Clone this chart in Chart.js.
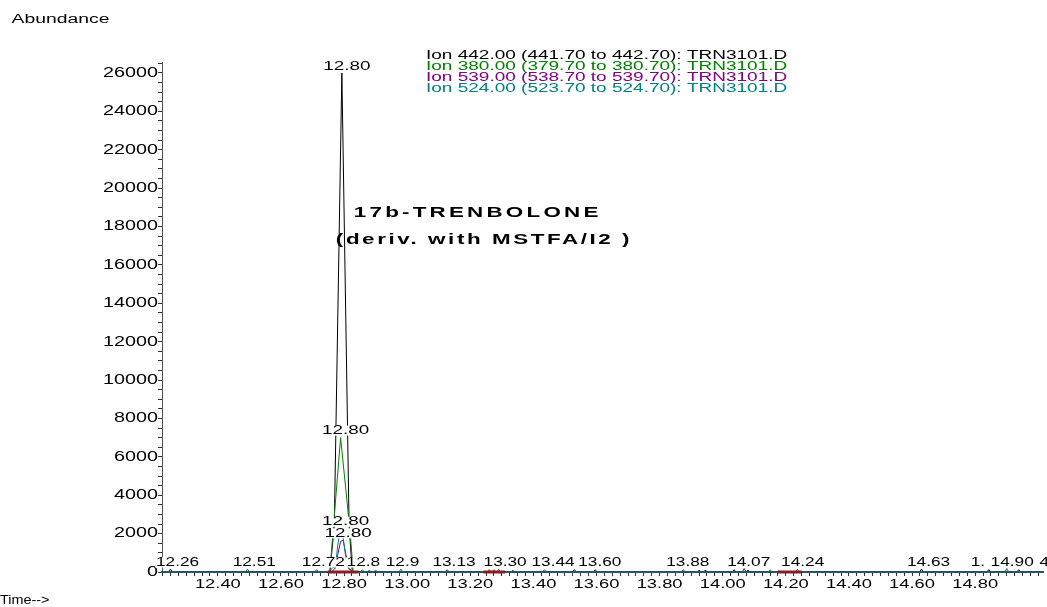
<!DOCTYPE html>
<html><head><meta charset="utf-8">
<script src="https://cdn.jsdelivr.net/npm/chart.js@4.4.1/dist/chart.umd.min.js"></script>
<style>html,body{margin:0;padding:0;background:#fff;overflow:hidden}canvas{display:block}</style>
</head><body>
<canvas id="c" width="1047" height="607"></canvas>
<script>
// ---------------- data ----------------
const ION_LABELS = [
  'Ion 442.00 (441.70 to 442.70): TRN3101.D',
  'Ion 380.00 (379.70 to 380.70): TRN3101.D',
  'Ion 539.00 (538.70 to 539.70): TRN3101.D',
  'Ion 524.00 (523.70 to 524.70): TRN3101.D'
];
const ION_COLORS = ['#000000', '#008000', '#800080', '#008080'];

const T442 = [12.223, 12.244, 12.250, 12.256, 12.755, 12.769, 12.793, 12.816, 12.826, 13.524, 13.530, 13.536, 13.590, 13.596, 13.602, 13.919, 13.925, 13.931, 13.939, 13.945, 13.951, 14.030, 14.036, 14.042, 14.074, 14.080, 14.086, 14.624, 14.630, 14.636, 14.837, 14.843, 14.849, 14.932, 14.938, 14.944, 15.010];
const A442 = [0, 0, 150, 0, 0, 2400, 26000, 2400, 0, 0, 120, 0, 0, 120, 0, 0, 100, 0, 0, 100, 0, 0, 120, 0, 0, 100, 0, 0, 150, 0, 0, 120, 0, 0, 120, 0, 0];

const T380 = [12.223, 12.488, 12.494, 12.500, 12.755, 12.765, 12.789, 12.819, 12.829, 12.852, 12.858, 12.864, 12.874, 12.880, 12.886, 12.974, 12.980, 12.986, 13.254, 13.260, 13.266, 13.269, 13.275, 13.281, 13.329, 13.335, 13.341, 13.429, 13.435, 13.441, 14.144, 14.150, 14.156, 14.894, 14.900, 14.906, 15.010];
const A380 = [0, 0, 150, 0, 0, 2100, 7000, 2100, 0, 0, 120, 0, 0, 100, 0, 0, 150, 0, 0, 120, 0, 0, 120, 0, 0, 100, 0, 0, 120, 0, 0, 120, 0, 0, 180, 0, 0];

const T539 = [12.223, 12.707, 12.713, 12.719, 12.760, 12.772, 12.780, 12.789, 12.797, 12.806, 12.815, 12.828, 13.121, 13.127, 13.133, 13.869, 13.875, 13.881, 14.062, 14.068, 14.074, 15.010];
const A539 = [0, 0, 120, 0, 0, 200, 900, 1600, 1650, 900, 200, 0, 0, 120, 0, 0, 120, 0, 0, 180, 0, 0];

const T524 = [12.223, 12.740, 12.755, 12.765, 12.772, 12.780, 12.789, 12.797, 12.806, 12.815, 12.830, 12.894, 12.900, 12.906, 13.284, 13.290, 13.296, 14.231, 14.237, 14.243, 15.010];
const A524 = [0, 0, 60, 250, 200, 1400, 2250, 1800, 700, 150, 0, 0, 100, 0, 0, 150, 0, 0, 150, 0, 0];

// integration baselines
const BASE_T = [12.748, 12.846, 12.900, 13.242, 13.310, 13.400, 14.175, 14.250];
const BASE_A = [0, 0, null, 0, 0, null, 0, 0];

// apex labels (one per ion)
const PEAK_LABELS = ['12.80', '12.80', '12.80', '12.80'];

// retention-time labels along the baseline (text as shown, time at left edge of text)
const RT_TEXT = ['12.26', '12.51', '12.72', '12.8', '12.9', '13.13', '13.30', '13.44', '13.60', '13.88', '14.07', '14.24', '14.63', '1.', '14.90', '4'];
const RT_T = [12.204, 12.447, 12.666, 12.808, 12.932, 13.080, 13.242, 13.394, 13.542, 13.821, 14.014, 14.185, 14.584, 14.786, 14.849, 15.004];

const X_TICK_LABELS = ['12.40', '12.60', '12.80', '13.00', '13.20', '13.40', '13.60', '13.80', '14.00', '14.20', '14.40', '14.60', '14.80'];
const Y_TICK_LABELS = ['0', '2000', '4000', '6000', '8000', '10000', '12000', '14000', '16000', '18000', '20000', '22000', '24000', '26000'];

const X_MIN = 12.223, X_MAX = 15.015, Y_MIN = 0, Y_MAX = 26570;
const X_MINOR = 0.025, Y_MINOR = 500;
const ANNOT = ['17b-TRENBOLONE', '(deriv. with MSTFA/I2 )'];

// ---------------- horizontally stretched text ----------------
const canvas = document.getElementById('c');
const ctx = canvas.getContext('2d');
let SX = 1.41;
const rawFill = ctx.fillText.bind(ctx);
const rawMeasure = ctx.measureText.bind(ctx);
ctx.fillText = function (t, x, y) {
  this.save(); this.translate(x, y); this.scale(SX, 1); rawFill(t, 0, 0); this.restore();
};
ctx.measureText = function (t) {
  const m = rawMeasure(t);
  return { width: m.width * SX, actualBoundingBoxAscent: m.actualBoundingBoxAscent,
    actualBoundingBoxDescent: m.actualBoundingBoxDescent,
    actualBoundingBoxLeft: m.actualBoundingBoxLeft * SX, actualBoundingBoxRight: m.actualBoundingBoxRight * SX };
};
const FAM = '"Liberation Sans", Arial, sans-serif';

function drawText(c, s, x, y, o) {
  c.save();
  c.font = o.font;
  c.textAlign = o.align || 'left';
  c.textBaseline = 'middle';
  if ('letterSpacing' in c) c.letterSpacing = (o.ls || 0) + 'px';
  const prev = SX; SX = o.sx;
  if (o.bg) {
    const w = c.measureText(s).width;
    let left = x;
    if (c.textAlign === 'center') left = x - w / 2; else if (c.textAlign === 'right') left = x - w;
    c.fillStyle = '#fff';
    c.fillRect(left - 1, y - o.bh / 2, w + 2, o.bh);
  }
  c.fillStyle = o.color || '#000';
  c.fillText(s, x, y);
  SX = prev;
  c.restore();
}

function minorTicks(lo, hi, step) {
  const out = [];
  const first = Math.ceil(lo / step - 1e-9);
  const last = Math.floor(hi / step + 1e-9);
  for (let k = first; k <= last; k++) out.push({ value: +(k * step).toFixed(4) });
  return out;
}

// ---------------- chart ----------------
const ions = [
  { t: T442, a: A442, order: 3 },
  { t: T380, a: A380, order: 2 },
  { t: T539, a: A539, order: 1 },
  { t: T524, a: A524, order: 0 }
];
const datasets = ions.map((d, i) => ({
  label: ION_LABELS[i],
  data: d.t.map((x, k) => ({ x: x, y: d.a[k] })),
  borderColor: ION_COLORS[i],
  borderWidth: 1,
  pointRadius: 0,
  tension: 0,
  fill: false,
  order: d.order,
  clip: 4
}));
datasets.push({
  label: 'baseline',
  data: BASE_T.map((x, k) => ({ x: x, y: BASE_A[k] })),
  borderColor: '#8b1a22',
  borderWidth: 3,
  pointRadius: 0,
  spanGaps: false,
  order: -1,
  clip: 4
});

const overlay = {
  id: 'overlay',
  afterDatasetsDraw(chart) {
    const c = chart.ctx, xs = chart.scales.x, ys = chart.scales.y;
    [0, 1, 2, 3].forEach(i => {
      const d = ions[i];
      let k = 0;
      d.a.forEach((v, j) => { if (v > d.a[k]) k = j; });
      const px = xs.getPixelForValue(d.t[k]) + 5;
      const py = ys.getPixelForValue(d.a[k]) - 7;
      drawText(c, PEAK_LABELS[i], px, py, { font: '13px ' + FAM, sx: 1.45, align: 'center', bg: i > 0, bh: 10 });
    });
    RT_TEXT.forEach((s, i) => {
      drawText(c, s, xs.getPixelForValue(RT_T[i]), 562.5, { font: '12.5px ' + FAM, sx: 1.38, bg: true, bh: 10 });
    });
    const bx = xs.getPixelForValue(T442[A442.indexOf(26000)]);
    drawText(c, ANNOT[0], bx + 12, ys.getPixelForValue(18700), { font: 'bold 14px ' + FAM, sx: 1.6, ls: 2.0 });
    drawText(c, ANNOT[1], bx - 6, ys.getPixelForValue(17300), { font: 'bold 14px ' + FAM, sx: 1.6, ls: 1.6 });
  },
  afterDraw(chart) {
    const c = chart.ctx;
    ION_LABELS.forEach((s, i) => {
      drawText(c, s, 426, 55.3 + i * 11, { font: '12.5px ' + FAM, sx: 1.52, color: ION_COLORS[i] });
    });
    drawText(c, 'Abundance', 11.5, 19.5, { font: '12.5px ' + FAM, sx: 1.55 });
    drawText(c, 'Time-->', 0, 601, { font: '12px ' + FAM, sx: 1.2 });
  }
};

new Chart(ctx, {
  type: 'line',
  data: { datasets: datasets },
  options: {
    responsive: false,
    animation: false,
    events: [],
    layout: { padding: { left: 0, right: 4, top: 62, bottom: 0 } },
    plugins: { legend: { display: false }, tooltip: { enabled: false }, title: { display: false } },
    scales: {
      x: {
        type: 'linear', min: X_MIN, max: X_MAX,
        grid: { drawOnChartArea: false, drawTicks: true, tickLength: 4, tickColor: '#333' },
        border: { display: true, color: '#2b5d73', width: 2 },
        ticks: { autoSkip: false, maxRotation: 0, minRotation: 0, padding: 1, color: '#000', font: { family: FAM, size: 13 } },
        afterBuildTicks: s => { s.ticks = minorTicks(X_MIN, X_MAX, X_MINOR); },
        afterTickToLabelConversion: s => {
          s.ticks.forEach(t => { const str = t.value.toFixed(2); t.label = (Math.abs(t.value * 5 - Math.round(t.value * 5)) < 1e-6 && X_TICK_LABELS.includes(str)) ? str : ''; });
        },
        afterFit: s => { s.height = 35; s.paddingLeft = 0; s.paddingRight = 0; }
      },
      y: {
        type: 'linear', min: Y_MIN, max: Y_MAX,
        grid: { drawOnChartArea: false, drawTicks: true, tickLength: 4, tickColor: '#333' },
        border: { display: true, color: '#555', width: 1 },
        ticks: { autoSkip: false, padding: 0, color: '#000', font: { family: FAM, size: 14 } },
        afterBuildTicks: s => { s.ticks = minorTicks(Y_MIN, Y_MAX, Y_MINOR); },
        afterTickToLabelConversion: s => {
          s.ticks.forEach(t => { const v = Math.round(t.value); const str = String(v); t.label = (v % 2000 === 0 && Y_TICK_LABELS.includes(str)) ? str : ''; });
        },
        afterFit: s => { s.width = 162; s.paddingTop = 0; s.paddingBottom = 0; }
      }
    }
  },
  plugins: [overlay]
});
</script>
</body></html>
